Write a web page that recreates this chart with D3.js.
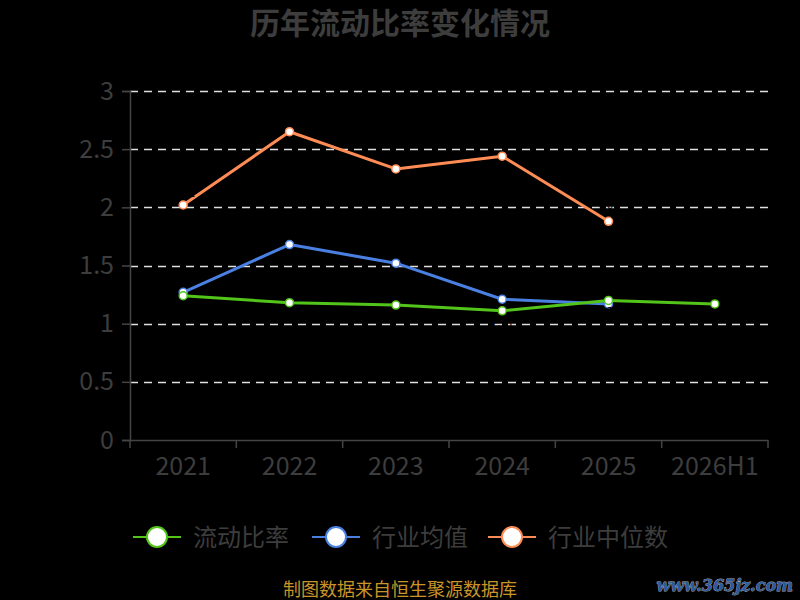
<!DOCTYPE html>
<html>
<head>
<meta charset="utf-8">
<script src="https://cdn.jsdelivr.net/npm/d3@7"></script>
<style>
  html, body { margin: 0; padding: 0; background: #000; }
  svg { display: block; font-family: "Noto Sans CJK SC", "Noto Sans", sans-serif; }
</style>
</head>
<body>
<svg id="viz" width="800" height="600"></svg>
<script>
"use strict";
// values
const years = ["2021", "2022", "2023", "2024", "2025", "2026H1"];
const currentRatio = [1.24, 1.18, 1.16, 1.11, 1.20, 1.17];
const industryMean = [1.27, 1.68, 1.52, 1.21, 1.17];
const industryMedian = [2.02, 2.65, 2.33, 2.44, 1.88];
const yTicks = [0, 0.5, 1, 1.5, 2, 2.5, 3];
const seriesNames = ["流动比率", "行业均值", "行业中位数"];
const seriesColors = ["#52c41a", "#4a80e2", "#ff8c55"];

let svg = d3.select("#viz"), w = 800, h = 600, margin = {
    top: 91,
    left: 130,
    bottom: 160,
    right: 32
};
const textColor = "#3d3d3d";

let xScale = d3.scaleBand()
    .domain(years)
    .range([margin.left, w - margin.right]);
let yScale = d3.scaleLinear()
    .domain([0, 3])
    .range([h - margin.bottom, margin.top]);
let xPos = (d) => xScale(d) + xScale.bandwidth() / 2;

// title
svg.append("text")
    .attr("x", w / 2)
    .attr("y", 34)
    .attr("text-anchor", "middle")
    .attr("font-size", 30)
    .attr("font-weight", "bold")
    .attr("fill", textColor)
    .text("历年流动比率变化情况");

// grid
svg.append("g")
    .selectAll("line")
    .data(yTicks.filter((d) => d > 0))
    .enter().append("line")
    .attr("x1", margin.left)
    .attr("x2", w - margin.right)
    .attr("y1", (d) => Math.round(yScale(d)) + 0.5)
    .attr("y2", (d) => Math.round(yScale(d)) + 0.5)
    .attr("stroke", "#e0e0e0")
    .attr("stroke-width", 1.5)
    .style("stroke-dasharray", ("8, 6"));

// y axis
let yAxis = svg.append("g")
    .attr("transform", `translate(${margin.left}, 0)`)
    .call(d3.axisLeft(yScale).tickValues(yTicks).tickFormat(d3.format("")).tickSize(8).tickPadding(8));
yAxis.select(".domain").attr("stroke", "#444").attr("stroke-width", 1.5);
yAxis.selectAll(".tick line").attr("stroke", "#444").attr("stroke-width", 1.5);
yAxis.selectAll("text").attr("fill", textColor).attr("font-size", 25)
    .attr("font-family", "\"Noto Sans CJK SC\", sans-serif");

// x axis
let xAxis = svg.append("g")
    .attr("transform", `translate(0, ${h - margin.bottom})`)
    .call(d3.axisBottom(xScale).tickSize(0).tickPadding(17));
xAxis.select(".domain").attr("stroke", "#444").attr("stroke-width", 1.5);
xAxis.selectAll("text").attr("fill", textColor).attr("font-size", 25)
    .attr("font-family", "\"Noto Sans CJK SC\", sans-serif");
// boundary ticks between categories
svg.append("g")
    .selectAll("line")
    .data(years.concat(["end"]))
    .enter().append("line")
    .attr("x1", (d, i) => i < years.length ? xScale(d) : xScale.range()[1])
    .attr("x2", (d, i) => i < years.length ? xScale(d) : xScale.range()[1])
    .attr("y1", h - margin.bottom)
    .attr("y2", h - margin.bottom + 8)
    .attr("stroke", "#444")
    .attr("stroke-width", 1.5);

// series
const allSeries = [currentRatio, industryMean, industryMedian];
const labelOffset = [16, -8, -8];
let line = d3.line()
    .x((d, i) => xPos(years[i]))
    .y((d) => yScale(d));

// draw in reverse so the company series sits on top
[2, 1, 0].forEach((s) => {
    let vals = allSeries[s];
    let g = svg.append("g").attr("class", "series");
    g.append("path")
        .datum(vals)
        .attr("d", line)
        .attr("fill", "none")
        .attr("stroke", seriesColors[s])
        .attr("stroke-width", 3)
        .attr("stroke-linejoin", "round");
    // value labels are black on black, only visible over lines
    g.selectAll(".lbl")
        .data(vals)
        .enter().append("text")
        .attr("x", (d, i) => xPos(years[i]))
        .attr("y", (d) => yScale(d) + labelOffset[s])
        .attr("text-anchor", "middle")
        .attr("font-size", 12)
        .attr("fill", "#000")
        .text((d) => d.toFixed(2));
    g.selectAll("circle")
        .data(vals)
        .enter().append("circle")
        .attr("cx", (d, i) => xPos(years[i]))
        .attr("cy", (d) => yScale(d))
        .attr("r", 4)
        .attr("fill", "#fff")
        .attr("stroke", seriesColors[s])
        .attr("stroke-width", 1.5);
});

// legend
const legendX = [133, 312, 488];
let legend = svg.append("g")
    .selectAll("g")
    .data(seriesNames)
    .enter().append("g")
    .attr("transform", (d, i) => `translate(${legendX[i]}, 537)`);
legend.append("line")
    .attr("x1", 0).attr("x2", 48)
    .attr("stroke", (d, i) => seriesColors[i])
    .attr("stroke-width", 2);
legend.append("circle")
    .attr("cx", 24)
    .attr("r", 10)
    .attr("fill", "#fff")
    .attr("stroke", (d, i) => seriesColors[i])
    .attr("stroke-width", 2);
legend.append("text")
    .attr("x", 60)
    .attr("y", 9)
    .attr("font-size", 24)
    .attr("fill", textColor)
    .text((d) => d);

// footer
svg.append("text")
    .attr("x", w / 2)
    .attr("y", 596)
    .attr("text-anchor", "middle")
    .attr("font-size", 18)
    .attr("fill", "#c99528")
    .text("制图数据来自恒生聚源数据库");

svg.append("text")
    .attr("x", 793)
    .attr("y", 591)
    .attr("text-anchor", "end")
    .attr("font-size", 16)
    .attr("font-weight", "bold")
    .attr("font-style", "italic")
    .attr("font-family", "\"DejaVu Serif\", serif")
    .attr("fill", "#2c5aa0")
    .attr("stroke", "#aaa")
    .attr("stroke-width", 0.8)
    .attr("paint-order", "stroke")
    .text("www.365jz.com");
</script>
</body>
</html>
